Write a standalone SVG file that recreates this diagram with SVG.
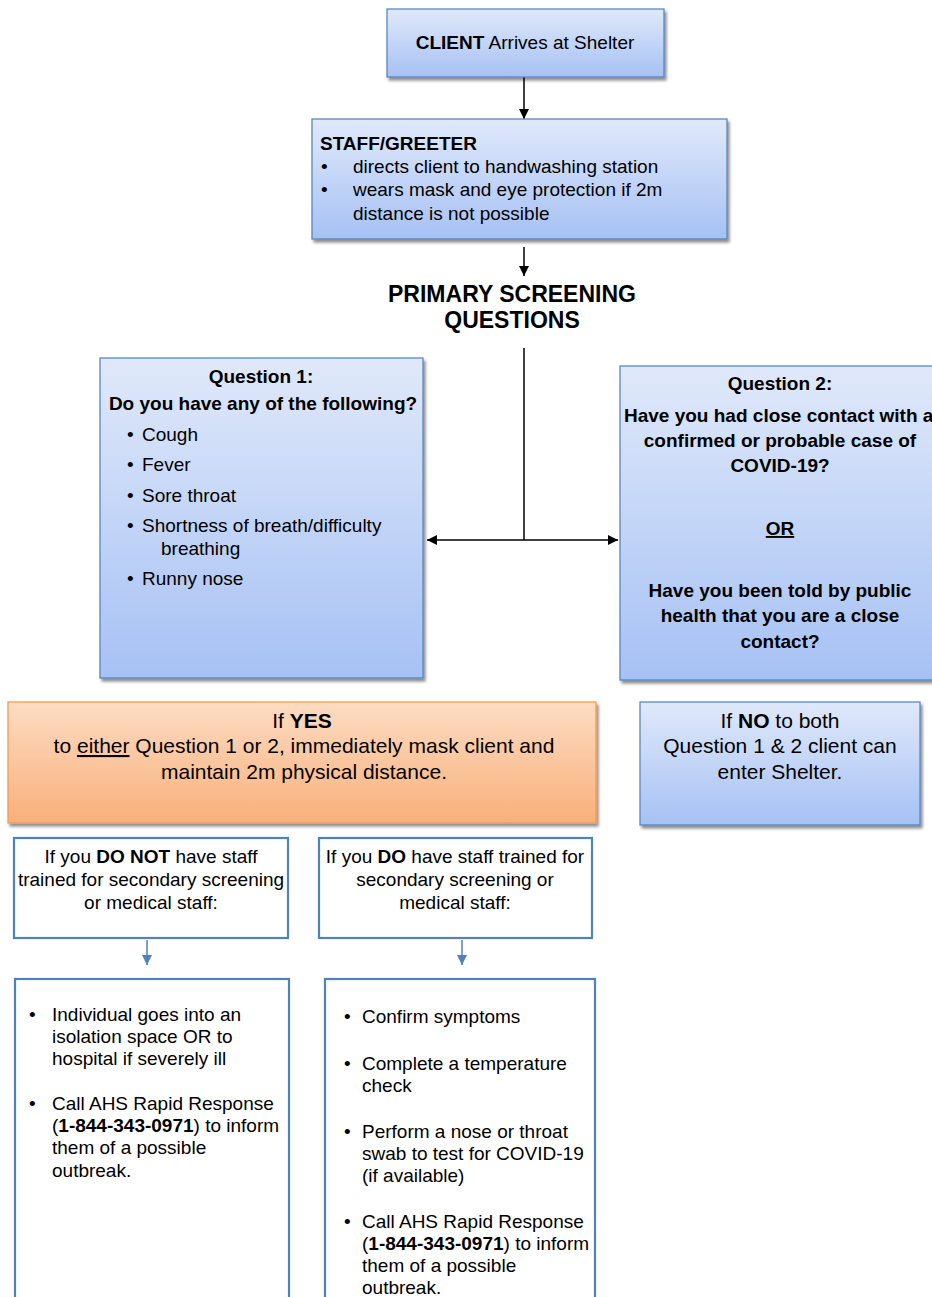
<svg xmlns="http://www.w3.org/2000/svg" width="932" height="1297" viewBox="0 0 932 1297">
<defs>
<linearGradient id="gBlue" x1="0" y1="0" x2="0" y2="1"><stop offset="0" stop-color="#e0e9fa"/><stop offset="1" stop-color="#a6c1f4"/></linearGradient>
<linearGradient id="gOrange" x1="0" y1="0" x2="0" y2="1"><stop offset="0" stop-color="#fcdcc3"/><stop offset="1" stop-color="#f9b07a"/></linearGradient>
<filter id="sh" x="-5%" y="-5%" width="115%" height="120%"><feGaussianBlur in="SourceAlpha" stdDeviation="1.5"/><feOffset dx="2" dy="3"/><feComponentTransfer><feFuncA type="linear" slope="0.45"/></feComponentTransfer><feMerge><feMergeNode/><feMergeNode in="SourceGraphic"/></feMerge></filter>
<marker id="ah" viewBox="0 0 10 10" refX="10" refY="5" markerWidth="10" markerHeight="10" markerUnits="userSpaceOnUse" orient="auto"><path d="M0,0 L10,5 L0,10 z" fill="#000"/></marker>
<marker id="ahb" viewBox="0 0 10 10" refX="10" refY="5" markerWidth="12" markerHeight="10" markerUnits="userSpaceOnUse" orient="auto"><path d="M0,0 L10,5 L0,10 z" fill="#4f81bd"/></marker>
</defs>
<style>
text{font-family:"Liberation Sans",Arial,sans-serif;fill:#000}
.blue{fill:url(#gBlue);stroke:#4f81bd;stroke-width:1.2}
.orange{fill:url(#gOrange);stroke:#f79646;stroke-width:1.2}
.plain{fill:#fff;stroke:#4f81bd;stroke-width:2.2}
.t17{font-size:19px}
.t19{font-size:21px}
.t20{font-size:23px;font-weight:bold}
.b{font-weight:bold}
.c{text-anchor:middle}
.conn{stroke:#000;stroke-width:1.5;fill:none}
.connb{stroke:#4f81bd;stroke-width:1.5;fill:none}
</style>
<rect width="932" height="1297" fill="#fff"/>

<g id="connectors">
<line class="conn" x1="524" y1="77" x2="524" y2="119" marker-end="url(#ah)"/>
<line class="conn" x1="524" y1="247" x2="524" y2="276" marker-end="url(#ah)"/>
<line class="conn" x1="524" y1="348" x2="524" y2="540"/>
<line class="conn" x1="524" y1="540" x2="427" y2="540" marker-end="url(#ah)"/>
<line class="conn" x1="524" y1="540" x2="618" y2="540" marker-end="url(#ah)"/>
<line class="connb" x1="147" y1="940" x2="147" y2="965" marker-end="url(#ahb)"/>
<line class="connb" x1="462" y1="940" x2="462" y2="965" marker-end="url(#ahb)"/>
</g>

<g id="client">
<rect class="blue" x="387" y="9" width="277" height="68" filter="url(#sh)"/>
<text class="t17 c" x="525" y="49"><tspan class="b">CLIENT</tspan> Arrives at Shelter</text>
</g>

<g id="staff">
<rect class="blue" x="312" y="119" width="415" height="120" filter="url(#sh)"/>
<text class="t17 b" x="320" y="150">STAFF/GREETER</text>
<text class="t17" x="321" y="173">•</text>
<text class="t17" x="353" y="173">directs client to handwashing station</text>
<text class="t17" x="321" y="196">•</text>
<text class="t17" x="353" y="196">wears mask and eye protection if 2m</text>
<text class="t17" x="353" y="220">distance is not possible</text>
</g>

<g id="primary">
<text class="t20 c" x="512" y="302">PRIMARY SCREENING</text>
<text class="t20 c" x="512" y="328">QUESTIONS</text>
</g>

<g id="q1">
<rect class="blue" x="100" y="358" width="323" height="320" filter="url(#sh)"/>
<text class="t17 b c" x="261" y="383">Question 1:</text>
<text class="t17 b c" x="263" y="410">Do you have any of the following?</text>
<text class="t17" x="127" y="441">•</text><text class="t17" x="142" y="441">Cough</text>
<text class="t17" x="127" y="471">•</text><text class="t17" x="142" y="471">Fever</text>
<text class="t17" x="127" y="502">•</text><text class="t17" x="142" y="502">Sore throat</text>
<text class="t17" x="127" y="532">•</text><text class="t17" x="142" y="532">Shortness of breath/difficulty</text>
<text class="t17" x="161" y="555">breathing</text>
<text class="t17" x="127" y="585">•</text><text class="t17" x="142" y="585">Runny nose</text>
</g>

<g id="q2">
<rect class="blue" x="620" y="366" width="330" height="314" filter="url(#sh)"/>
<text class="t17 b c" x="780" y="390">Question 2:</text>
<text class="t17 b" x="624" y="422">Have you had close contact with a</text>
<text class="t17 b c" x="780" y="447">confirmed or probable case of</text>
<text class="t17 b c" x="780" y="472">COVID-19?</text>
<text class="t17 b c" x="780" y="535" text-decoration="underline">OR</text>
<text class="t17 b c" x="780" y="597">Have you been told by public</text>
<text class="t17 b c" x="780" y="622">health that you are a close</text>
<text class="t17 b c" x="780" y="648">contact?</text>
</g>

<g id="ifyes">
<rect class="orange" x="8" y="702" width="588" height="121" filter="url(#sh)"/>
<text class="t19 c" x="302" y="728">If <tspan class="b">YES</tspan></text>
<text class="t19 c" x="304" y="753">to <tspan text-decoration="underline">either</tspan> Question 1 or 2, immediately mask client and</text>
<text class="t19 c" x="304" y="779">maintain 2m physical distance.</text>
</g>

<g id="ifno">
<rect class="blue" x="640" y="702" width="280" height="123" filter="url(#sh)"/>
<text class="t19 c" x="780" y="728">If <tspan class="b">NO</tspan> to both</text>
<text class="t19 c" x="780" y="753">Question 1 &amp; 2 client can</text>
<text class="t19 c" x="780" y="779">enter Shelter.</text>
</g>

<g id="donot">
<rect class="plain" x="14" y="838" width="274" height="100"/>
<text class="t17 c" x="151" y="863">If you <tspan class="b">DO NOT</tspan> have staff</text>
<text class="t17 c" x="151" y="886">trained for secondary screening</text>
<text class="t17 c" x="151" y="909">or medical staff:</text>
</g>

<g id="do">
<rect class="plain" x="319" y="838" width="273" height="100"/>
<text class="t17 c" x="455" y="863">If you <tspan class="b">DO</tspan> have staff trained for</text>
<text class="t17 c" x="455" y="886">secondary screening or</text>
<text class="t17 c" x="455" y="909">medical staff:</text>
</g>

<g id="actions-left">
<rect class="plain" x="15" y="979" width="274" height="330"/>
<text class="t17" x="29" y="1021">•</text>
<text class="t17" x="52" y="1021">Individual goes into an</text>
<text class="t17" x="52" y="1043">isolation space OR to</text>
<text class="t17" x="52" y="1065">hospital if severely ill</text>
<text class="t17" x="29" y="1110">•</text>
<text class="t17" x="52" y="1110">Call AHS Rapid Response</text>
<text class="t17" x="52" y="1132">(<tspan class="b">1-844-343-0971</tspan>) to inform</text>
<text class="t17" x="52" y="1154">them of a possible</text>
<text class="t17" x="52" y="1177">outbreak.</text>
</g>

<g id="actions-right">
<rect class="plain" x="325" y="979" width="270" height="330"/>
<text class="t17" x="344" y="1023">•</text><text class="t17" x="362" y="1023">Confirm symptoms</text>
<text class="t17" x="344" y="1070">•</text><text class="t17" x="362" y="1070">Complete a temperature</text>
<text class="t17" x="362" y="1092">check</text>
<text class="t17" x="344" y="1138">•</text><text class="t17" x="362" y="1138">Perform a nose or throat</text>
<text class="t17" x="362" y="1160">swab to test for COVID-19</text>
<text class="t17" x="362" y="1182">(if available)</text>
<text class="t17" x="344" y="1228">•</text><text class="t17" x="362" y="1228">Call AHS Rapid Response</text>
<text class="t17" x="362" y="1250">(<tspan class="b">1-844-343-0971</tspan>) to inform</text>
<text class="t17" x="362" y="1272">them of a possible</text>
<text class="t17" x="362" y="1294">outbreak.</text>
</g>
</svg>
